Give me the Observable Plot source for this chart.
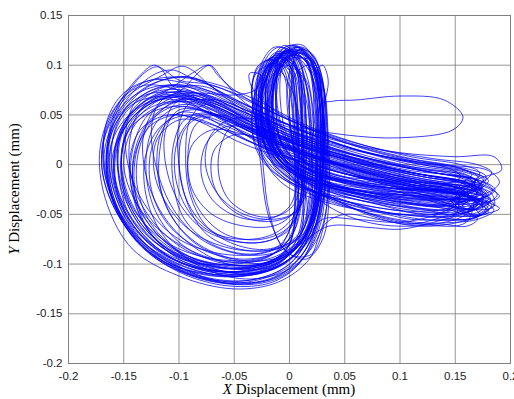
<!DOCTYPE html>
<html>
<head>
<meta charset="utf-8">
<script src="https://cdn.jsdelivr.net/npm/d3@7"></script>
<script src="https://cdn.jsdelivr.net/npm/@observablehq/plot@0.6"></script>
<style>
  html, body { margin: 0; padding: 0; background: #fff; }
  #chart { width: 514px; height: 399px; }
</style>
</head>
<body>
<div id="chart"></div>
<script>
// Axis ticks
const xTicks = [-0.2, -0.15, -0.1, -0.05, 0, 0.05, 0.1, 0.15, 0.2];
const yTicks = [-0.2, -0.15, -0.1, -0.05, 0, 0.05, 0.1, 0.15];
const xLabelItalic = "X";
const xLabelRest = " Displacement (mm)";
const yLabelItalic = "Y";
const yLabelRest = " Displacement (mm)";

// Trajectory, read cycle by cycle from the picture: [x, y] in mm
const c01 = [[0.15,-0.035],[0.172,-0.03],[0.172,-0.018],[0.14,-0.01],[0.09,0.0],[0.04,0.012],[-0.01,0.03],[-0.05,0.05],[-0.09,0.068],[-0.125,0.062],[-0.15,0.035],[-0.158,-0.01],[-0.142,-0.055],[-0.108,-0.088],[-0.06,-0.104],[-0.018,-0.1],[0.008,-0.078],[0.013,-0.03],[0.011,0.04],[0.008,0.095],[-0.004,0.108],[-0.016,0.085],[-0.018,0.04],[-0.004,0.005],[0.04,-0.015],[0.1,-0.028]];
const c02 = [[0.16,-0.045],[0.185,-0.042],[0.182,-0.028],[0.15,-0.02],[0.1,-0.01],[0.05,0.005],[0.0,0.022],[-0.04,0.042],[-0.08,0.062],[-0.115,0.06],[-0.14,0.04],[-0.15,0.0],[-0.135,-0.045],[-0.1,-0.08],[-0.055,-0.098],[-0.012,-0.092],[0.018,-0.065],[0.03,-0.01],[0.03,0.05],[0.024,0.1],[0.008,0.118],[-0.008,0.1],[-0.015,0.055],[-0.008,0.012],[0.03,-0.01],[0.09,-0.025],[0.14,-0.035]];
const c03 = [[0.16,-0.03],[0.175,-0.022],[0.16,-0.01],[0.11,0.0],[0.06,0.015],[0.01,0.035],[-0.035,0.058],[-0.07,0.078],[-0.088,0.095],[-0.098,0.099],[-0.115,0.09],[-0.15,0.065],[-0.168,0.025],[-0.165,-0.02],[-0.145,-0.065],[-0.11,-0.1],[-0.065,-0.118],[-0.025,-0.115],[0.008,-0.095],[0.025,-0.055],[0.03,0.01],[0.028,0.07],[0.015,0.11],[-0.005,0.112],[-0.018,0.08],[-0.018,0.03],[0.0,-0.005],[0.05,-0.025],[0.11,-0.04],[0.15,-0.045]];
const c04 = [[0.17,-0.05],[0.18,-0.04],[0.16,-0.03],[0.12,-0.02],[0.07,-0.005],[0.02,0.01],[-0.03,0.03],[-0.065,0.05],[-0.09,0.055],[-0.11,0.045],[-0.125,0.015],[-0.125,-0.025],[-0.11,-0.06],[-0.08,-0.085],[-0.04,-0.095],[-0.008,-0.085],[0.006,-0.055],[0.008,0.0],[0.006,0.06],[0.0,0.095],[-0.012,0.1],[-0.024,0.075],[-0.025,0.03],[-0.008,-0.01],[0.04,-0.035],[0.1,-0.05],[0.15,-0.052]];
const c05 = [[0.175,-0.05],[0.19,-0.044],[0.17,-0.035],[0.13,-0.025],[0.08,-0.012],[0.03,0.005],[-0.02,0.028],[-0.06,0.052],[-0.1,0.072],[-0.135,0.068],[-0.16,0.04],[-0.168,0.0],[-0.155,-0.045],[-0.125,-0.085],[-0.08,-0.108],[-0.03,-0.11],[0.005,-0.09],[0.022,-0.05],[0.024,0.02],[0.022,0.08],[0.01,0.112],[-0.008,0.108],[-0.02,0.07],[-0.015,0.025],[0.01,-0.002],[0.07,-0.02],[0.13,-0.025]];
const c06 = [[0.14,-0.02],[0.155,-0.012],[0.14,-0.002],[0.1,0.005],[0.05,0.018],[0.0,0.035],[-0.04,0.058],[-0.075,0.078],[-0.1,0.078],[-0.13,0.065],[-0.152,0.035],[-0.155,-0.005],[-0.14,-0.05],[-0.11,-0.085],[-0.065,-0.1],[-0.02,-0.098],[0.012,-0.075],[0.024,-0.03],[0.026,0.03],[0.028,0.06],[0.04,0.064],[0.06,0.065],[0.1,0.069],[0.14,0.065],[0.157,0.048],[0.148,0.035],[0.1,0.027],[0.05,0.03],[0.0,0.04],[-0.04,0.055],[-0.075,0.07],[-0.11,0.072],[-0.14,0.05],[-0.16,0.01],[-0.155,-0.035],[-0.13,-0.075],[-0.09,-0.1],[-0.045,-0.108],[-0.005,-0.095],[0.02,-0.06],[0.03,-0.01],[0.03,0.05],[0.02,0.1],[0.0,0.11],[-0.015,0.085],[-0.012,0.035],[0.01,0.0],[0.06,-0.02],[0.12,-0.03]];
const c07 = [[0.155,-0.038],[0.17,-0.03],[0.155,-0.018],[0.11,-0.008],[0.06,0.006],[0.01,0.024],[-0.04,0.048],[-0.08,0.07],[-0.11,0.08],[-0.14,0.07],[-0.163,0.04],[-0.17,0.0],[-0.158,-0.045],[-0.13,-0.085],[-0.09,-0.11],[-0.045,-0.12],[-0.005,-0.108],[0.02,-0.075],[0.032,-0.025],[0.034,0.04],[0.028,0.09],[0.012,0.115],[-0.006,0.112],[-0.022,0.085],[-0.025,0.04],[-0.01,0.005],[0.03,-0.02],[0.09,-0.035],[0.14,-0.04]];
const c08 = [[0.17,-0.015],[0.192,-0.005],[0.185,0.008],[0.15,0.008],[0.1,0.012],[0.05,0.022],[0.0,0.04],[-0.04,0.062],[-0.06,0.085],[-0.072,0.1],[-0.082,0.093],[-0.098,0.075],[-0.125,0.06],[-0.148,0.03],[-0.152,-0.01],[-0.138,-0.05],[-0.105,-0.082],[-0.06,-0.096],[-0.02,-0.092],[0.01,-0.07],[0.02,-0.02],[0.02,0.04],[0.012,0.088],[-0.005,0.1],[-0.02,0.08],[-0.025,0.035],[-0.01,-0.005],[0.03,-0.03],[0.09,-0.045],[0.14,-0.048]];
const c09 = [[0.16,-0.048],[0.175,-0.04],[0.16,-0.03],[0.12,-0.018],[0.07,-0.003],[0.02,0.015],[-0.03,0.038],[-0.07,0.06],[-0.1,0.065],[-0.12,0.05],[-0.135,0.02],[-0.138,-0.02],[-0.125,-0.06],[-0.095,-0.09],[-0.05,-0.105],[-0.01,-0.1],[0.008,-0.07],[0.013,-0.015],[0.012,0.05],[0.008,0.1],[-0.004,0.12],[-0.016,0.105],[-0.022,0.06],[-0.015,0.015],[0.01,-0.015],[0.06,-0.04],[0.11,-0.055],[0.145,-0.055]];
const c10 = [[0.165,-0.055],[0.178,-0.045],[0.16,-0.035],[0.12,-0.025],[0.07,-0.012],[0.02,0.005],[-0.02,0.02],[-0.06,0.04],[-0.09,0.05],[-0.115,0.04],[-0.13,0.01],[-0.13,-0.03],[-0.115,-0.07],[-0.085,-0.1],[-0.04,-0.115],[0.0,-0.105],[0.025,-0.075],[0.035,-0.03],[0.034,0.03],[0.03,0.08],[0.02,0.105],[0.005,0.105],[-0.002,0.08],[0.0,0.04],[0.008,0.01],[0.04,-0.01],[0.1,-0.02],[0.15,-0.022]];
const c11 = [[0.17,-0.025],[0.178,-0.012],[0.16,-0.004],[0.12,0.002],[0.07,0.015],[0.02,0.035],[-0.03,0.06],[-0.07,0.08],[-0.1,0.085],[-0.113,0.095],[-0.123,0.1],[-0.135,0.09],[-0.155,0.06],[-0.165,0.02],[-0.16,-0.03],[-0.14,-0.07],[-0.1,-0.1],[-0.055,-0.112],[-0.015,-0.105],[0.012,-0.08],[0.022,-0.035],[0.022,0.03],[0.015,0.085],[0.0,0.1],[-0.015,0.08],[-0.02,0.04],[-0.005,0.0],[0.04,-0.02],[0.1,-0.03],[0.15,-0.035]];
const c12 = [[0.158,-0.03],[0.168,-0.02],[0.15,-0.012],[0.11,-0.004],[0.06,0.01],[0.01,0.028],[-0.035,0.05],[-0.075,0.065],[-0.105,0.062],[-0.13,0.04],[-0.142,0.0],[-0.135,-0.045],[-0.11,-0.08],[-0.07,-0.1],[-0.03,-0.102],[-0.005,-0.088],[0.006,-0.055],[0.008,0.0],[0.007,0.06],[0.002,0.1],[-0.008,0.108],[-0.022,0.09],[-0.03,0.05],[-0.022,0.01],[0.01,-0.012],[0.07,-0.028],[0.13,-0.032]];
const c13 = [[0.172,-0.035],[0.186,-0.025],[0.17,-0.015],[0.13,-0.008],[0.08,0.003],[0.03,0.02],[-0.02,0.042],[-0.06,0.062],[-0.095,0.075],[-0.125,0.072],[-0.15,0.05],[-0.162,0.015],[-0.158,-0.03],[-0.135,-0.075],[-0.095,-0.105],[-0.05,-0.12],[-0.01,-0.112],[0.015,-0.085],[0.028,-0.04],[0.03,0.02],[0.03,0.075],[0.022,0.108],[0.006,0.118],[-0.01,0.1],[-0.015,0.05],[-0.005,0.01],[0.03,-0.015],[0.08,-0.03],[0.13,-0.04]];
const c14 = [[0.15,-0.04],[0.163,-0.032],[0.148,-0.022],[0.1,-0.012],[0.05,0.0],[0.0,0.018],[-0.04,0.038],[-0.075,0.052],[-0.095,0.045],[-0.105,0.02],[-0.105,-0.02],[-0.095,-0.055],[-0.07,-0.08],[-0.035,-0.09],[-0.008,-0.08],[0.004,-0.05],[0.006,0.0],[0.005,0.06],[0.0,0.1],[-0.01,0.112],[-0.022,0.095],[-0.026,0.055],[-0.016,0.015],[0.01,-0.01],[0.06,-0.03],[0.12,-0.04]];
const c15 = [[0.16,-0.042],[0.18,-0.035],[0.168,-0.022],[0.13,-0.014],[0.08,-0.003],[0.03,0.012],[-0.02,0.034],[-0.06,0.058],[-0.1,0.075],[-0.13,0.08],[-0.148,0.07],[-0.165,0.04],[-0.17,0.0],[-0.16,-0.04],[-0.135,-0.08],[-0.1,-0.105],[-0.055,-0.118],[-0.015,-0.115],[0.012,-0.095],[0.028,-0.06],[0.033,0.0],[0.03,0.06],[0.022,0.1],[0.008,0.112],[-0.008,0.098],[-0.012,0.05],[-0.002,0.01],[0.04,-0.012],[0.1,-0.022],[0.15,-0.028]];
const c16 = [[0.168,-0.025],[0.175,-0.015],[0.16,-0.008],[0.12,0.0],[0.07,0.012],[0.02,0.03],[-0.025,0.052],[-0.06,0.072],[-0.09,0.088],[-0.115,0.085],[-0.14,0.068],[-0.158,0.035],[-0.16,-0.01],[-0.145,-0.055],[-0.115,-0.09],[-0.07,-0.106],[-0.025,-0.104],[0.008,-0.082],[0.022,-0.04],[0.025,0.02],[0.024,0.08],[0.016,0.11],[0.0,0.12],[-0.014,0.105],[-0.025,0.07],[-0.025,0.03],[-0.01,0.0],[0.03,-0.025],[0.09,-0.042],[0.14,-0.05]];
const c17 = [[0.165,-0.052],[0.18,-0.048],[0.17,-0.038],[0.13,-0.03],[0.08,-0.018],[0.03,-0.003],[-0.02,0.015],[-0.055,0.035],[-0.08,0.05],[-0.1,0.052],[-0.115,0.035],[-0.12,0.0],[-0.112,-0.04],[-0.09,-0.075],[-0.055,-0.095],[-0.02,-0.098],[0.0,-0.08],[0.005,-0.04],[0.004,0.02],[0.0,0.075],[-0.008,0.1],[-0.02,0.1],[-0.028,0.07],[-0.025,0.025],[-0.004,-0.01],[0.05,-0.04],[0.1,-0.058],[0.14,-0.06]];
const c18 = [[0.16,-0.062],[0.17,-0.055],[0.155,-0.045],[0.12,-0.03],[0.07,-0.015],[0.02,0.002],[-0.03,0.025],[-0.07,0.05],[-0.105,0.068],[-0.14,0.062],[-0.16,0.035],[-0.163,-0.005],[-0.15,-0.05],[-0.12,-0.09],[-0.08,-0.112],[-0.035,-0.116],[0.0,-0.1],[0.02,-0.065],[0.028,-0.01],[0.028,0.055],[0.02,0.098],[0.005,0.11],[-0.01,0.092],[-0.01,0.045],[0.005,0.01],[0.04,-0.01],[0.1,-0.016],[0.15,-0.02]];
const c19 = [[0.17,-0.02],[0.183,-0.008],[0.17,0.0],[0.13,0.006],[0.08,0.016],[0.03,0.032],[-0.02,0.055],[-0.05,0.075],[-0.065,0.09],[-0.073,0.1],[-0.088,0.092],[-0.11,0.075],[-0.135,0.06],[-0.155,0.03],[-0.158,-0.015],[-0.14,-0.06],[-0.105,-0.095],[-0.06,-0.11],[-0.02,-0.106],[0.01,-0.085],[0.025,-0.045],[0.028,0.015],[0.026,0.07],[0.02,0.105],[0.005,0.115],[-0.01,0.1],[-0.018,0.06],[-0.012,0.02],[0.01,-0.005],[0.06,-0.02],[0.12,-0.025]];
const c20 = [[0.16,-0.028],[0.168,-0.016],[0.15,-0.01],[0.1,0.0],[0.05,0.012],[0.0,0.03],[-0.045,0.055],[-0.085,0.072],[-0.12,0.07],[-0.145,0.05],[-0.158,0.015],[-0.155,-0.03],[-0.135,-0.07],[-0.1,-0.098],[-0.055,-0.11],[-0.015,-0.104],[0.015,-0.08],[0.03,-0.035],[0.032,0.03],[0.03,0.085],[0.02,0.112],[0.008,0.115],[0.002,0.09],[0.004,0.045],[0.01,0.01],[0.03,-0.015],[0.08,-0.032],[0.135,-0.038]];
const c21 = [[0.155,-0.045],[0.17,-0.04],[0.158,-0.028],[0.12,-0.02],[0.07,-0.008],[0.02,0.01],[-0.03,0.032],[-0.07,0.055],[-0.1,0.06],[-0.125,0.045],[-0.138,0.015],[-0.14,-0.025],[-0.128,-0.065],[-0.1,-0.095],[-0.06,-0.108],[-0.02,-0.105],[0.004,-0.085],[0.013,-0.05],[0.015,0.005],[0.014,0.065],[0.008,0.105],[-0.006,0.11],[-0.02,0.09],[-0.03,0.05],[-0.024,0.01],[0.005,-0.02],[0.06,-0.035],[0.12,-0.045]];
const c22 = [[0.15,-0.05],[0.166,-0.045],[0.155,-0.035],[0.11,-0.025],[0.06,-0.01],[0.01,0.01],[-0.035,0.035],[-0.075,0.058],[-0.105,0.078],[-0.118,0.098],[-0.128,0.095],[-0.148,0.07],[-0.162,0.035],[-0.165,-0.01],[-0.152,-0.055],[-0.12,-0.095],[-0.075,-0.115],[-0.03,-0.115],[0.002,-0.098],[0.022,-0.06],[0.03,0.0],[0.028,0.06],[0.02,0.1],[0.002,0.11],[-0.012,0.088],[-0.016,0.04],[-0.004,0.005],[0.03,-0.02],[0.09,-0.04],[0.14,-0.045]];
const c23 = [[0.16,-0.03],[0.172,-0.02],[0.158,-0.01],[0.12,-0.005],[0.07,0.006],[0.02,0.022],[-0.03,0.045],[-0.07,0.068],[-0.1,0.08],[-0.12,0.075],[-0.142,0.055],[-0.155,0.02],[-0.152,-0.025],[-0.13,-0.068],[-0.095,-0.096],[-0.05,-0.1],[-0.015,-0.09],[0.002,-0.06],[0.005,-0.01],[0.004,0.05],[0.0,0.095],[-0.01,0.108],[-0.022,0.095],[-0.032,0.065],[-0.033,0.03],[-0.02,0.0],[0.01,-0.025],[0.06,-0.045],[0.115,-0.058],[0.15,-0.058]];
const c24 = [[0.17,-0.055],[0.185,-0.046],[0.172,-0.036],[0.13,-0.026],[0.08,-0.014],[0.03,0.003],[-0.02,0.025],[-0.06,0.046],[-0.09,0.058],[-0.12,0.055],[-0.145,0.035],[-0.152,-0.005],[-0.14,-0.05],[-0.11,-0.085],[-0.07,-0.102],[-0.03,-0.102],[0.0,-0.085],[0.018,-0.05],[0.024,0.0],[0.024,0.06],[0.016,0.102],[0.0,0.114],[-0.014,0.1],[-0.022,0.06],[-0.018,0.02],[0.005,-0.008],[0.055,-0.025],[0.12,-0.032]];
const c25 = [[0.16,-0.035],[0.175,-0.028],[0.16,-0.018],[0.12,-0.01],[0.07,0.002],[0.02,0.02],[-0.03,0.042],[-0.07,0.062],[-0.105,0.07],[-0.135,0.058],[-0.155,0.025],[-0.158,-0.02],[-0.14,-0.065],[-0.105,-0.095],[-0.06,-0.108],[-0.02,-0.1],[0.01,-0.08],[0.035,-0.062],[0.07,-0.063],[0.1,-0.065],[0.13,-0.058],[0.16,-0.048],[0.17,-0.04],[0.155,-0.03],[0.11,-0.02],[0.06,-0.005],[0.01,0.015],[-0.04,0.04],[-0.08,0.06],[-0.115,0.062],[-0.14,0.045],[-0.152,0.01],[-0.148,-0.035],[-0.125,-0.075],[-0.085,-0.1],[-0.04,-0.108],[-0.005,-0.095],[0.018,-0.065],[0.026,-0.02],[0.027,0.04],[0.02,0.09],[0.005,0.108],[-0.01,0.095],[-0.015,0.05],[-0.008,0.012],[0.02,-0.015],[0.08,-0.028],[0.14,-0.032]];
const c26 = [[0.165,-0.035],[0.18,-0.03],[0.168,-0.02],[0.13,-0.012],[0.08,0.0],[0.03,0.018],[-0.02,0.04],[-0.055,0.065],[-0.08,0.085],[-0.1,0.088],[-0.13,0.078],[-0.155,0.05],[-0.166,0.01],[-0.16,-0.035],[-0.138,-0.078],[-0.1,-0.108],[-0.055,-0.122],[-0.015,-0.118],[0.01,-0.098],[0.025,-0.06],[0.03,-0.005],[0.03,0.06],[0.024,0.1],[0.01,0.115],[-0.006,0.105],[-0.016,0.07],[-0.018,0.03],[-0.005,0.0],[0.03,-0.02],[0.09,-0.034],[0.145,-0.04]];
const c27 = [[0.155,-0.02],[0.165,-0.01],[0.15,-0.002],[0.11,0.006],[0.06,0.02],[0.01,0.04],[-0.02,0.06],[-0.035,0.08],[-0.036,0.092],[-0.026,0.09],[-0.03,0.076],[-0.05,0.07],[-0.085,0.072],[-0.12,0.065],[-0.145,0.04],[-0.152,0.0],[-0.14,-0.045],[-0.11,-0.082],[-0.065,-0.1],[-0.025,-0.1],[0.005,-0.085],[0.02,-0.05],[0.024,0.01],[0.022,0.07],[0.014,0.105],[-0.002,0.115],[-0.016,0.1],[-0.022,0.06],[-0.015,0.02],[0.01,-0.01],[0.07,-0.028],[0.13,-0.035]];
const c28 = [[0.152,-0.04],[0.165,-0.035],[0.155,-0.025],[0.11,-0.016],[0.06,-0.004],[0.01,0.012],[-0.04,0.036],[-0.08,0.056],[-0.112,0.066],[-0.14,0.055],[-0.16,0.025],[-0.162,-0.02],[-0.145,-0.065],[-0.11,-0.098],[-0.065,-0.112],[-0.025,-0.108],[0.005,-0.09],[0.022,-0.055],[0.028,-0.005],[0.028,0.05],[0.022,0.09],[0.01,0.108],[-0.005,0.1],[-0.012,0.065],[-0.008,0.025],[0.01,0.0],[0.06,-0.018],[0.12,-0.025]];
const c29 = [[0.158,-0.022],[0.17,-0.012],[0.155,-0.004],[0.11,0.004],[0.06,0.014],[0.01,0.03],[-0.03,0.05],[-0.065,0.065],[-0.09,0.062],[-0.1,0.04],[-0.1,0.0],[-0.092,-0.04],[-0.075,-0.07],[-0.045,-0.085],[-0.012,-0.085],[0.012,-0.07],[0.025,-0.035],[0.028,0.02],[0.026,0.075],[0.016,0.108],[-0.004,0.114],[-0.022,0.095],[-0.028,0.055],[-0.024,0.0],[-0.018,-0.05],[-0.005,-0.085],[0.015,-0.095],[0.03,-0.075],[0.036,-0.03],[0.035,0.03],[0.03,0.08],[0.018,0.1],[0.005,0.09],[0.0,0.05],[0.008,0.01],[0.04,-0.015],[0.1,-0.03],[0.15,-0.036]];
const c30 = [[0.175,-0.04],[0.188,-0.03],[0.175,-0.02],[0.13,-0.012],[0.08,-0.002],[0.03,0.014],[-0.02,0.038],[-0.06,0.06],[-0.085,0.07],[-0.105,0.06],[-0.115,0.03],[-0.118,-0.015],[-0.108,-0.05],[-0.085,-0.078],[-0.05,-0.095],[-0.015,-0.095],[0.01,-0.08],[0.022,-0.045],[0.026,0.01],[0.024,0.07],[0.014,0.105],[-0.004,0.112],[-0.02,0.09],[-0.024,0.045],[-0.012,0.005],[0.02,-0.025],[0.07,-0.045],[0.13,-0.052]];
const c31 = [[0.16,-0.055],[0.172,-0.05],[0.16,-0.04],[0.12,-0.03],[0.07,-0.018],[0.02,-0.002],[-0.025,0.02],[-0.06,0.045],[-0.09,0.065],[-0.115,0.07],[-0.135,0.055],[-0.145,0.02],[-0.14,-0.025],[-0.12,-0.062],[-0.09,-0.088],[-0.05,-0.098],[-0.015,-0.09],[0.005,-0.065],[0.012,-0.02],[0.01,0.04],[0.0,0.08],[-0.015,0.1],[-0.03,0.092],[-0.034,0.07],[-0.025,0.04],[-0.01,0.01],[0.02,-0.01],[0.08,-0.02],[0.14,-0.025]];
const c32 = [[0.165,-0.02],[0.172,-0.008],[0.155,0.0],[0.11,0.008],[0.06,0.022],[0.01,0.042],[-0.03,0.065],[-0.07,0.082],[-0.11,0.088],[-0.14,0.078],[-0.162,0.05],[-0.172,0.01],[-0.165,-0.04],[-0.142,-0.085],[-0.1,-0.112],[-0.05,-0.125],[-0.01,-0.118],[0.018,-0.095],[0.032,-0.06],[0.05,-0.05],[0.08,-0.055],[0.11,-0.06],[0.14,-0.052],[0.165,-0.042],[0.175,-0.03],[0.16,-0.02],[0.12,-0.012],[0.07,0.0],[0.02,0.016],[-0.03,0.04],[-0.07,0.062],[-0.1,0.066],[-0.128,0.05],[-0.142,0.015],[-0.142,-0.03],[-0.125,-0.07],[-0.09,-0.095],[-0.045,-0.105],[-0.01,-0.096],[0.015,-0.07],[0.028,-0.025],[0.03,0.04],[0.026,0.09],[0.012,0.112],[-0.005,0.105],[-0.016,0.065],[-0.012,0.02],[0.01,-0.01],[0.06,-0.028],[0.12,-0.035]];
const c33 = [[0.16,-0.04],[0.176,-0.034],[0.165,-0.024],[0.12,-0.016],[0.07,-0.004],[0.02,0.012],[-0.03,0.035],[-0.06,0.055],[-0.078,0.06],[-0.09,0.045],[-0.094,0.01],[-0.09,-0.03],[-0.075,-0.062],[-0.05,-0.08],[-0.02,-0.085],[0.0,-0.075],[0.009,-0.045],[0.011,0.01],[0.01,0.065],[0.004,0.1],[-0.01,0.106],[-0.026,0.088],[-0.031,0.05],[-0.025,0.01],[-0.005,-0.02],[0.04,-0.04],[0.1,-0.05],[0.15,-0.05]];
const c34 = [[0.155,-0.028],[0.168,-0.02],[0.155,-0.01],[0.11,-0.002],[0.06,0.012],[0.01,0.03],[-0.04,0.055],[-0.08,0.075],[-0.115,0.078],[-0.145,0.06],[-0.162,0.028],[-0.165,-0.015],[-0.15,-0.06],[-0.118,-0.095],[-0.072,-0.11],[-0.03,-0.108],[0.0,-0.09],[0.018,-0.055],[0.02,0.0],[0.016,0.06],[0.005,0.098],[-0.012,0.11],[-0.026,0.095],[-0.03,0.06],[-0.026,0.0],[-0.018,-0.055],[0.0,-0.09],[0.02,-0.09],[0.032,-0.055],[0.034,0.0],[0.03,0.06],[0.025,0.095],[0.03,0.1],[0.035,0.085],[0.03,0.05],[0.03,0.01],[0.06,-0.01],[0.11,-0.02],[0.16,-0.028]];
const c35 = [[0.175,-0.03],[0.19,-0.018],[0.18,-0.006],[0.14,0.0],[0.09,0.01],[0.04,0.026],[-0.01,0.05],[-0.05,0.072],[-0.085,0.085],[-0.105,0.095],[-0.12,0.092],[-0.14,0.075],[-0.158,0.045],[-0.165,0.005],[-0.158,-0.04],[-0.13,-0.082],[-0.088,-0.108],[-0.04,-0.112],[-0.005,-0.1],[0.02,-0.07],[0.03,-0.02],[0.03,0.05],[0.024,0.1],[0.012,0.12],[-0.004,0.118],[-0.02,0.1],[-0.02,0.055],[-0.008,0.015],[0.03,-0.01],[0.09,-0.024],[0.15,-0.03]];
const c36 = [[0.16,-0.045],[0.172,-0.038],[0.16,-0.03],[0.11,-0.022],[0.06,-0.012],[0.02,0.0],[-0.02,0.012],[-0.05,0.025],[-0.075,0.04],[-0.1,0.05],[-0.125,0.04],[-0.14,0.01],[-0.14,-0.035],[-0.125,-0.07],[-0.095,-0.095],[-0.055,-0.105],[-0.02,-0.098],[0.008,-0.078],[0.024,-0.04],[0.028,0.02],[0.026,0.08],[0.018,0.108],[0.0,0.116],[-0.015,0.1],[-0.02,0.06],[-0.012,0.015],[0.015,-0.015],[0.07,-0.035],[0.13,-0.045]];
const c37 = [[0.168,-0.045],[0.182,-0.035],[0.17,-0.025],[0.13,-0.018],[0.08,-0.006],[0.03,0.01],[-0.02,0.032],[-0.065,0.056],[-0.1,0.068],[-0.128,0.06],[-0.15,0.035],[-0.155,-0.005],[-0.145,-0.05],[-0.115,-0.088],[-0.075,-0.106],[-0.03,-0.105],[-0.004,-0.088],[0.006,-0.05],[0.007,0.01],[0.005,0.07],[0.0,0.1],[-0.014,0.108],[-0.028,0.098],[-0.034,0.08],[-0.03,0.04],[-0.018,0.005],[0.01,-0.02],[0.06,-0.04],[0.12,-0.055],[0.16,-0.055]];
const c38 = [[0.175,-0.05],[0.183,-0.04],[0.165,-0.032],[0.12,-0.024],[0.07,-0.01],[0.02,0.008],[-0.03,0.03],[-0.07,0.05],[-0.1,0.058],[-0.122,0.04],[-0.13,0.0],[-0.122,-0.045],[-0.1,-0.078],[-0.065,-0.098],[-0.025,-0.1],[0.005,-0.085],[0.022,-0.05],[0.03,0.0],[0.032,0.06],[0.026,0.1],[0.012,0.118],[-0.006,0.112],[-0.016,0.08],[-0.018,0.04],[-0.006,0.008],[0.025,-0.015],[0.085,-0.03],[0.145,-0.035]];
const c39 = [[0.16,-0.03],[0.172,-0.022],[0.158,-0.013],[0.11,-0.006],[0.06,0.006],[0.01,0.022],[-0.035,0.04],[-0.065,0.05],[-0.085,0.04],[-0.092,0.01],[-0.088,-0.025],[-0.07,-0.05],[-0.04,-0.062],[-0.01,-0.06],[0.008,-0.04],[0.012,0.01],[0.01,0.06],[0.003,0.095],[-0.01,0.104],[-0.022,0.085],[-0.024,0.04],[-0.012,0.005],[0.02,-0.018],[0.08,-0.032],[0.14,-0.04]];
const c40 = [[0.165,-0.045],[0.178,-0.036],[0.165,-0.026],[0.12,-0.018],[0.07,-0.006],[0.02,0.01],[-0.03,0.032],[-0.07,0.052],[-0.1,0.055],[-0.112,0.035],[-0.112,0.0],[-0.1,-0.038],[-0.078,-0.065],[-0.045,-0.078],[-0.015,-0.075],[0.005,-0.055],[0.014,-0.015],[0.015,0.045],[0.01,0.09],[-0.004,0.108],[-0.018,0.1],[-0.026,0.07],[-0.024,0.03],[-0.008,0.0],[0.03,-0.022],[0.09,-0.038],[0.145,-0.045]];
const c41 = [[0.155,-0.035],[0.17,-0.028],[0.16,-0.018],[0.12,-0.01],[0.07,0.002],[0.02,0.018],[-0.03,0.04],[-0.07,0.06],[-0.1,0.072],[-0.118,0.062],[-0.125,0.035],[-0.12,-0.005],[-0.105,-0.045],[-0.08,-0.075],[-0.045,-0.09],[-0.012,-0.088],[0.01,-0.07],[0.02,-0.035],[0.02,0.02],[0.016,0.075],[0.006,0.11],[-0.01,0.118],[-0.022,0.105],[-0.028,0.075],[-0.024,0.035],[-0.01,0.005],[0.02,-0.02],[0.08,-0.036],[0.14,-0.044]];
const c42 = [[0.168,-0.052],[0.18,-0.045],[0.168,-0.034],[0.13,-0.024],[0.08,-0.012],[0.03,0.004],[-0.02,0.022],[-0.055,0.04],[-0.08,0.048],[-0.095,0.035],[-0.1,0.005],[-0.095,-0.03],[-0.08,-0.058],[-0.055,-0.075],[-0.025,-0.078],[0.0,-0.065],[0.01,-0.035],[0.008,0.02],[0.004,0.07],[-0.006,0.1],[-0.02,0.105],[-0.03,0.085],[-0.03,0.045],[-0.018,0.01],[0.01,-0.02],[0.06,-0.045],[0.12,-0.06],[0.16,-0.058]];
const c43 = [[0.17,-0.028],[0.18,-0.016],[0.165,-0.008],[0.12,0.0],[0.07,0.012],[0.02,0.03],[-0.03,0.055],[-0.075,0.075],[-0.11,0.08],[-0.138,0.065],[-0.148,0.035],[-0.145,-0.005],[-0.128,-0.045],[-0.1,-0.075],[-0.06,-0.09],[-0.02,-0.088],[0.008,-0.07],[0.018,-0.03],[0.016,0.03],[0.01,0.085],[0.0,0.112],[-0.014,0.112],[-0.024,0.09],[-0.024,0.05],[-0.012,0.012],[0.02,-0.012],[0.08,-0.026],[0.14,-0.032]];
const c44 = [[0.16,-0.05],[0.175,-0.044],[0.165,-0.034],[0.12,-0.026],[0.07,-0.014],[0.02,0.0],[-0.03,0.02],[-0.07,0.04],[-0.1,0.045],[-0.12,0.025],[-0.122,-0.01],[-0.108,-0.045],[-0.085,-0.07],[-0.05,-0.085],[-0.015,-0.085],[0.01,-0.07],[0.016,-0.04],[0.006,0.0],[0.0,0.05],[-0.005,0.09],[-0.015,0.105],[-0.028,0.1],[-0.034,0.075],[-0.028,0.035],[-0.012,0.005],[0.02,-0.02],[0.08,-0.04],[0.13,-0.05]];
const c45 = [[0.16,-0.035],[0.172,-0.026],[0.158,-0.017],[0.11,-0.008],[0.06,0.004],[0.01,0.02],[-0.03,0.035],[-0.058,0.038],[-0.075,0.022],[-0.08,-0.008],[-0.07,-0.035],[-0.048,-0.052],[-0.02,-0.055],[0.0,-0.042],[0.008,-0.01],[0.008,0.045],[0.004,0.09],[-0.006,0.108],[-0.018,0.1],[-0.026,0.07],[-0.022,0.03],[-0.006,0.002],[0.03,-0.02],[0.09,-0.036],[0.15,-0.042]];
const c46 = [[0.17,-0.045],[0.182,-0.036],[0.168,-0.027],[0.12,-0.02],[0.07,-0.008],[0.02,0.008],[-0.025,0.026],[-0.05,0.03],[-0.068,0.015],[-0.07,-0.015],[-0.058,-0.04],[-0.035,-0.055],[-0.01,-0.056],[0.008,-0.045],[0.016,-0.015],[0.018,0.04],[0.014,0.085],[0.004,0.11],[-0.008,0.112],[-0.02,0.09],[-0.02,0.045],[-0.01,0.01],[0.02,-0.02],[0.07,-0.05],[0.12,-0.062],[0.16,-0.056]];
const c47 = [[0.172,-0.05],[0.185,-0.04],[0.17,-0.03],[0.13,-0.022],[0.08,-0.01],[0.03,0.006],[-0.02,0.028],[-0.06,0.048],[-0.085,0.048],[-0.1,0.028],[-0.104,-0.005],[-0.095,-0.04],[-0.075,-0.065],[-0.045,-0.075],[-0.015,-0.07],[0.005,-0.05],[0.012,-0.015],[0.012,0.04],[0.008,0.09],[-0.002,0.115],[-0.014,0.118],[-0.026,0.1],[-0.03,0.06],[-0.022,0.02],[0.0,-0.01],[0.04,-0.045],[0.08,-0.06],[0.13,-0.06],[0.16,-0.05]];
const c48 = [[0.165,-0.04],[0.178,-0.03],[0.165,-0.02],[0.12,-0.012],[0.07,0.0],[0.02,0.016],[-0.03,0.04],[-0.065,0.062],[-0.095,0.07],[-0.12,0.058],[-0.132,0.03],[-0.13,-0.01],[-0.115,-0.05],[-0.09,-0.08],[-0.055,-0.1],[-0.02,-0.1],[0.005,-0.085],[0.02,-0.055],[0.025,-0.01],[0.022,0.05],[0.014,0.095],[0.004,0.112],[-0.006,0.1],[-0.008,0.06],[0.0,0.025],[0.025,0.0],[0.08,-0.015],[0.14,-0.02]];
const c49 = [[0.165,-0.025],[0.176,-0.014],[0.16,-0.006],[0.115,0.002],[0.065,0.014],[0.015,0.032],[-0.025,0.045],[-0.055,0.045],[-0.072,0.028],[-0.076,0.0],[-0.066,-0.028],[-0.045,-0.048],[-0.02,-0.055],[0.002,-0.05],[0.015,-0.03],[0.02,0.01],[0.022,0.06],[0.018,0.1],[0.008,0.118],[-0.006,0.114],[-0.014,0.09],[-0.014,0.05],[-0.004,0.015],[0.025,-0.01],[0.085,-0.026],[0.145,-0.034]];
const c50 = [[0.16,-0.045],[0.17,-0.038],[0.155,-0.03],[0.11,-0.022],[0.06,-0.01],[0.01,0.006],[-0.04,0.025],[-0.08,0.045],[-0.11,0.05],[-0.135,0.035],[-0.145,0.0],[-0.138,-0.04],[-0.115,-0.075],[-0.08,-0.1],[-0.04,-0.11],[-0.005,-0.1],[0.015,-0.075],[0.03,-0.055],[0.06,-0.055],[0.1,-0.058],[0.135,-0.05],[0.158,-0.04],[0.165,-0.03],[0.15,-0.022],[0.1,-0.014],[0.05,-0.002],[0.0,0.015],[-0.04,0.03],[-0.07,0.035],[-0.088,0.02],[-0.092,-0.01],[-0.082,-0.045],[-0.058,-0.07],[-0.025,-0.075],[0.0,-0.062],[0.012,-0.03],[0.014,0.02],[0.012,0.07],[0.004,0.104],[-0.01,0.11],[-0.022,0.09],[-0.024,0.05],[-0.014,0.015],[0.015,-0.01],[0.07,-0.028],[0.13,-0.036]];
const c51 = [[0.17,-0.035],[0.184,-0.026],[0.172,-0.016],[0.13,-0.008],[0.08,0.004],[0.03,0.02],[-0.02,0.045],[-0.06,0.068],[-0.095,0.082],[-0.125,0.085],[-0.15,0.072],[-0.165,0.045],[-0.168,0.005],[-0.156,-0.045],[-0.125,-0.09],[-0.08,-0.115],[-0.03,-0.12],[0.0,-0.108],[0.02,-0.08],[0.03,-0.04],[0.032,0.02],[0.028,0.075],[0.018,0.108],[0.005,0.12],[-0.008,0.11],[-0.012,0.075],[-0.006,0.035],[0.01,0.005],[0.05,-0.015],[0.11,-0.026],[0.16,-0.03]];
const c52 = [[0.175,-0.038],[0.19,-0.032],[0.176,-0.022],[0.13,-0.016],[0.08,-0.004],[0.03,0.012],[-0.02,0.03],[-0.05,0.04],[-0.062,0.02],[-0.064,-0.01],[-0.055,-0.035],[-0.035,-0.05],[-0.012,-0.052],[0.004,-0.04],[0.01,-0.01],[0.01,0.05],[0.006,0.095],[-0.004,0.112],[-0.016,0.108],[-0.028,0.085],[-0.034,0.05],[-0.03,0.015],[-0.012,-0.01],[0.03,-0.03],[0.09,-0.045],[0.15,-0.05],[0.172,-0.042],[0.176,-0.03]];

const cycles = [c01,c02,c03,c04,c05,c06,c07,c08,c09,c10,c11,c12,c13,c14,c15,c16,c17,c18,c19,c20,c21,c22,c23,c24,c25,c26,c27,c28,c29,c30,c31,c32,c33,c34,c35,c36,c37,c38,c39,c40,c41,c42,c43,c44,c45,c46,c47,c48,c49,c50,c51,c52];
const trajectory = cycles.flat();

const W = 514, H = 399;
const fmt = d => (d === 0 ? "0" : String(d));

const plot = Plot.plot({
  width: W,
  height: H,
  marginTop: 15,
  marginRight: 4,
  marginBottom: 36,
  marginLeft: 68,
  style: { fontFamily: "'Liberation Sans', Arial, sans-serif", fontSize: "11.5px", background: "#fff", color: "#222" },
  x: { domain: [-0.2, 0.2], ticks: xTicks, label: null },
  y: { domain: [-0.2, 0.15], ticks: yTicks, label: null },
  marks: [
    Plot.gridX(xTicks, { stroke: "#7a7a7a", strokeOpacity: 1, strokeWidth: 0.8 }),
    Plot.gridY(yTicks, { stroke: "#7a7a7a", strokeOpacity: 1, strokeWidth: 0.8 }),
    Plot.line(trajectory, { x: d => d[0], y: d => d[1], stroke: "#0000ff", strokeWidth: 0.75, curve: "catmull-rom" }),
    Plot.frame({ stroke: "#808080", strokeWidth: 1 }),
    Plot.axisX(xTicks, { tickSize: 0, tickPadding: 8, tickFormat: fmt, label: null }),
    Plot.axisY(yTicks, { tickSize: 0, tickPadding: 6, tickFormat: fmt, label: null })
  ]
});

const svg = d3.select(plot);
const xl = svg.append("text")
  .attr("x", 289).attr("y", 394)
  .attr("text-anchor", "middle")
  .attr("font-family", "'Liberation Serif', 'Times New Roman', serif")
  .attr("font-size", 15).attr("fill", "#000");
xl.append("tspan").attr("font-style", "italic").text(xLabelItalic);
xl.append("tspan").text(xLabelRest);

const yl = svg.append("text")
  .attr("transform", "translate(19,189) rotate(-90)")
  .attr("text-anchor", "middle")
  .attr("font-family", "'Liberation Serif', 'Times New Roman', serif")
  .attr("font-size", 15).attr("fill", "#000");
yl.append("tspan").attr("font-style", "italic").text(yLabelItalic);
yl.append("tspan").text(yLabelRest);

document.getElementById("chart").appendChild(plot);
</script>
</body>
</html>
